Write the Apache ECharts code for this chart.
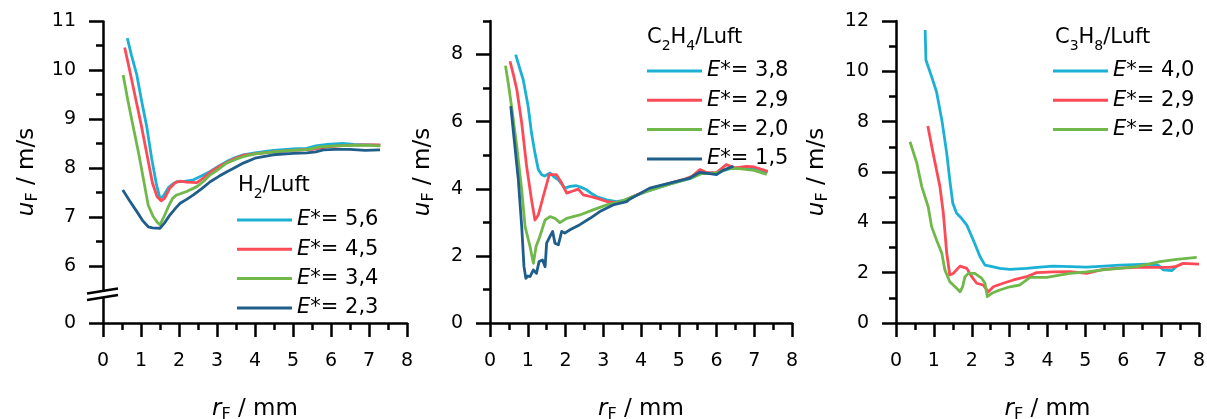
<!DOCTYPE html>
<html>
<head>
<meta charset="utf-8">
<script src="https://cdn.jsdelivr.net/npm/echarts@6/dist/echarts.min.js"></script>
<style>
  html, body { margin: 0; padding: 0; background: #fff; }
  #chart { width: 1207px; height: 419px; }
</style>
</head>
<body>
<div id="chart"></div>
<script>
// ---------- data: [r_F in mm, u_F in m/s] ----------
// H2 / air
const h2_E56 = [[0.64,10.65],[0.75,10.3],[0.89,9.9],[1.02,9.35],[1.15,8.85],[1.28,8.2],[1.41,7.65],[1.5,7.38],[1.58,7.42],[1.72,7.6],[1.85,7.68],[1.94,7.72],[2.1,7.72],[2.38,7.76],[2.6,7.84],[2.82,7.93],[3.05,8.04],[3.25,8.13],[3.5,8.22],[3.69,8.27],[4.0,8.31],[4.48,8.36],[5.0,8.39],[5.36,8.4],[5.6,8.45],[5.9,8.48],[6.3,8.5],[6.6,8.48],[7.0,8.47],[7.29,8.46]];
const h2_E45 = [[0.57,10.46],[0.7,10.0],[0.85,9.45],[1.0,8.9],[1.15,8.3],[1.3,7.7],[1.42,7.42],[1.53,7.33],[1.62,7.38],[1.75,7.58],[1.9,7.7],[2.03,7.73],[2.2,7.71],[2.47,7.7],[2.65,7.8],[2.85,7.93],[3.1,8.05],[3.4,8.17],[3.7,8.26],[4.0,8.29],[4.5,8.33],[5.0,8.36],[5.5,8.38],[5.9,8.43],[6.4,8.46],[6.9,8.47],[7.3,8.47]];
const h2_E34 = [[0.53,9.9],[0.65,9.4],[0.75,9.01],[0.93,8.33],[1.06,7.79],[1.19,7.24],[1.32,7.01],[1.42,6.9],[1.5,6.84],[1.6,7.0],[1.72,7.21],[1.83,7.38],[1.94,7.45],[2.2,7.52],[2.47,7.62],[2.65,7.73],[2.82,7.86],[3.05,7.98],[3.25,8.1],[3.5,8.18],[3.69,8.23],[4.0,8.29],[4.5,8.33],[5.0,8.36],[5.4,8.38],[5.7,8.43],[6.1,8.45],[6.6,8.46],[7.0,8.46],[7.3,8.45]];
const h2_E23 = [[0.52,7.55],[0.7,7.33],[0.9,7.1],[1.05,6.92],[1.19,6.8],[1.3,6.78],[1.5,6.77],[1.62,6.88],[1.76,7.04],[1.9,7.17],[2.03,7.28],[2.2,7.36],[2.38,7.45],[2.6,7.58],[2.82,7.72],[3.05,7.83],[3.25,7.92],[3.5,8.02],[3.69,8.1],[4.0,8.2],[4.48,8.27],[5.0,8.3],[5.36,8.31],[5.6,8.33],[5.8,8.37],[6.1,8.38],[6.5,8.38],[6.9,8.36],[7.29,8.37]];

// C2H4 / air
const c2h4_E38 = [[0.68,8.0],[0.78,7.62],[0.88,7.25],[1.01,6.46],[1.1,5.66],[1.19,5.07],[1.28,4.57],[1.37,4.42],[1.45,4.38],[1.59,4.47],[1.7,4.35],[1.81,4.27],[1.98,4.02],[2.12,4.07],[2.29,4.09],[2.4,4.05],[2.56,3.97],[2.7,3.85],[2.82,3.77],[3.09,3.67],[3.35,3.62],[3.62,3.67],[3.79,3.77],[4.15,3.92],[4.5,4.05],[4.8,4.15],[5.11,4.25],[5.3,4.3],[5.56,4.45],[5.8,4.45],[6.0,4.45],[6.2,4.55],[6.44,4.62],[6.8,4.62],[7.1,4.6],[7.35,4.48]];
const c2h4_E29 = [[0.53,7.8],[0.62,7.4],[0.71,6.96],[0.84,5.96],[0.97,4.67],[1.1,3.67],[1.19,3.07],[1.28,3.22],[1.41,3.77],[1.57,4.42],[1.76,4.42],[1.9,4.17],[2.03,3.87],[2.16,3.92],[2.34,3.99],[2.47,3.82],[2.65,3.77],[2.82,3.72],[3.09,3.62],[3.35,3.59],[3.62,3.67],[3.79,3.77],[4.15,3.94],[4.5,4.08],[4.8,4.18],[5.11,4.27],[5.35,4.37],[5.56,4.57],[5.75,4.48],[6.0,4.48],[6.26,4.72],[6.5,4.62],[6.79,4.67],[7.0,4.65],[7.36,4.52]];
const c2h4_E20 = [[0.41,7.67],[0.49,7.1],[0.57,6.46],[0.71,5.26],[0.84,3.97],[0.93,2.87],[1.06,2.28],[1.15,1.78],[1.22,2.28],[1.32,2.58],[1.46,3.07],[1.59,3.17],[1.72,3.12],[1.85,2.99],[2.03,3.12],[2.38,3.22],[2.73,3.37],[3.09,3.52],[3.4,3.6],[3.79,3.77],[4.15,3.92],[4.5,4.05],[4.8,4.15],[5.11,4.25],[5.4,4.35],[5.6,4.45],[6.0,4.47],[6.3,4.6],[6.6,4.6],[7.0,4.55],[7.33,4.43]];
const c2h4_E15 = [[0.55,6.46],[0.66,5.26],[0.75,4.27],[0.84,2.87],[0.9,1.68],[0.95,1.33],[1.0,1.4],[1.06,1.38],[1.15,1.58],[1.23,1.48],[1.3,1.83],[1.39,1.88],[1.46,1.68],[1.5,2.38],[1.59,2.58],[1.66,2.73],[1.72,2.38],[1.81,2.33],[1.9,2.73],[1.98,2.68],[2.12,2.78],[2.38,2.93],[2.65,3.12],[2.91,3.32],[3.26,3.52],[3.62,3.62],[3.7,3.69],[4.23,4.02],[4.76,4.17],[5.29,4.32],[5.56,4.49],[5.82,4.45],[6.0,4.42],[6.17,4.55],[6.45,4.67]];

// C3H8 / air
const c3h8_E40 = [[0.77,11.64],[0.79,10.45],[0.94,9.79],[1.07,9.19],[1.21,8.07],[1.34,6.74],[1.42,5.68],[1.5,4.76],[1.6,4.36],[1.73,4.16],[1.87,3.89],[2.04,3.3],[2.22,2.63],[2.35,2.3],[2.48,2.26],[2.74,2.17],[3.01,2.13],[3.45,2.17],[3.8,2.22],[4.15,2.26],[4.6,2.24],[5.03,2.22],[5.5,2.26],[5.91,2.3],[6.3,2.32],[6.61,2.34],[6.92,2.3],[7.06,2.11],[7.28,2.08],[7.41,2.26]];
const c3h8_E29 = [[0.84,7.83],[0.98,6.74],[1.16,5.42],[1.25,4.36],[1.34,2.77],[1.42,1.91],[1.51,1.97],[1.69,2.26],[1.87,2.17],[2.0,1.84],[2.13,1.58],[2.3,1.51],[2.44,1.24],[2.57,1.44],[2.83,1.58],[3.1,1.71],[3.45,1.84],[3.71,2.0],[4.15,2.03],[4.59,2.04],[5.03,1.97],[5.47,2.13],[5.9,2.18],[6.35,2.21],[6.79,2.21],[7.23,2.21],[7.4,2.25],[7.58,2.37],[8.0,2.34]];
const c3h8_E20 = [[0.37,7.2],[0.55,6.35],[0.68,5.42],[0.85,4.62],[0.94,3.83],[1.07,3.3],[1.21,2.77],[1.29,2.11],[1.42,1.64],[1.6,1.38],[1.69,1.24],[1.76,1.44],[1.82,1.84],[1.91,1.97],[2.08,1.97],[2.26,1.78],[2.35,1.58],[2.41,1.05],[2.53,1.18],[2.74,1.31],[3.01,1.44],[3.27,1.51],[3.54,1.81],[3.98,1.81],[4.59,1.97],[5.03,2.03],[5.47,2.11],[5.9,2.17],[6.35,2.24],[6.97,2.44],[7.41,2.53],[7.94,2.61]];

// tick values
const xTicks = [0, 1, 2, 3, 4, 5, 6, 7, 8];
const yTicksH2 = [0, 6, 7, 8, 9, 10, 11];
const yMinorH2 = [6.5, 7.5, 8.5, 9.5, 10.5];
const yTicksC2H4 = [0, 2, 4, 6, 8];
const yMinorC2H4 = [1, 3, 5, 7, 9];
const yTicksC3H8 = [0, 2, 4, 6, 8, 10, 12];
const yMinorC3H8 = [1, 3, 5, 7, 9, 11];

// legend labels (E* values)
const labelsH2 = ['5,6', '4,5', '3,4', '2,3'];
const labelsC2H4 = ['3,8', '2,9', '2,0', '1,5'];
const labelsC3H8 = ['4,0', '2,9', '2,0'];

const COLORS = ['#1bb1d5', '#fd4a57', '#71b84b', '#1f5e8a'];
const FONT = '"DejaVu Sans", "Liberation Sans", Arial, sans-serif';
const BLACK = '#000';
const LW = 2.5;     // axis strokes
const DLW = 2.8;    // data strokes

const nameRich = {
  i: { fontStyle: 'italic', fontSize: 23, fontFamily: FONT, color: BLACK, lineHeight: 28 },
  s: { fontSize: 16, fontFamily: FONT, color: BLACK, verticalAlign: 'bottom', lineHeight: 14 },
  n: { fontSize: 23, fontFamily: FONT, color: BLACK, lineHeight: 28 }
};
const nameStyle = { fontSize: 23, fontFamily: FONT, color: BLACK, lineHeight: 28, rich: nameRich };

const grids = [
  { left: 103, top: 21, width: 304, height: 302, outerBoundsMode: 'none', containLabel: false },
  { left: 490, top: 21, width: 302, height: 302, outerBoundsMode: 'none', containLabel: false },
  { left: 896, top: 21, width: 303, height: 302, outerBoundsMode: 'none', containLabel: false }
];

function xAxisFor(g) {
  return {
    type: 'value', gridIndex: g, min: 0, max: 8, interval: 1,
    axisLine: { show: true, onZero: false, lineStyle: { color: BLACK, width: LW } },
    axisTick: { show: true, length: 14, lineStyle: { color: BLACK, width: LW } },
    minorTick: { show: true, splitNumber: 2, length: 7, lineStyle: { color: BLACK, width: LW } },
    splitLine: { show: false }, minorSplitLine: { show: false },
    axisLabel: { customValues: xTicks, fontSize: 19, fontFamily: FONT, color: BLACK, margin: 29 },
    name: '{i|r}{s|F}{n| / mm}', nameLocation: 'middle', nameGap: 72, nameTextStyle: nameStyle
  };
}

function yAxesFor(g, min, max, majors, minors, nameGap, breaks) {
  const base = { type: 'value', gridIndex: g, min: min, max: max, position: 'left', offset: 0,
                 splitLine: { show: false } };
  if (breaks) {
    base.breaks = breaks;
    base.breakArea = { show: false };
  }
  const main = Object.assign({}, base, {
    axisLine: { show: true, onZero: false, lineStyle: { color: BLACK, width: LW } },
    axisTick: { show: true, length: 14, customValues: majors, lineStyle: { color: BLACK, width: LW } },
    axisLabel: { customValues: majors, fontSize: 19, fontFamily: FONT, color: BLACK, margin: 27 },
    name: '{i|u}{s|F}{n| / m/s}', nameLocation: 'middle', nameGap: nameGap, nameTextStyle: nameStyle
  });
  const minor = Object.assign({}, base, {
    axisLine: { show: false },
    axisTick: { show: true, length: 7, customValues: minors, lineStyle: { color: BLACK, width: LW } },
    axisLabel: { show: false }
  });
  return [main, minor];
}

const h2Break = [{ start: 0.5, end: 5.5, gap: '2.65%' }];

const yAxes = [].concat(
  yAxesFor(0, 0, 11, yTicksH2, yMinorH2, 62, h2Break),
  yAxesFor(1, 0, 9, yTicksC2H4, yMinorC2H4, 53, null),
  yAxesFor(2, 0, 12, yTicksC3H8, yMinorC3H8, 65, null)
);

function lineSeries(name, data, g, color) {
  return {
    type: 'line', name: name, data: data, xAxisIndex: g, yAxisIndex: g * 2,
    showSymbol: false, symbol: 'none', smooth: false, clip: true,
    lineStyle: { color: color, width: DLW, join: 'round' }, itemStyle: { color: color },
    emphasis: { disabled: true }, animation: false
  };
}

const panels = [
  { labels: labelsH2, data: [h2_E56, h2_E45, h2_E34, h2_E23], key: 'H2' },
  { labels: labelsC2H4, data: [c2h4_E38, c2h4_E29, c2h4_E20, c2h4_E15], key: 'C2H4' },
  { labels: labelsC3H8, data: [c3h8_E40, c3h8_E29, c3h8_E20], key: 'C3H8' }
];

const series = [];
const legendNames = [[], [], []];
panels.forEach(function (p, g) {
  p.data.forEach(function (d, k) {
    const nm = p.key + ' E* = ' + p.labels[k];
    legendNames[g].push({ name: nm, icon: 'rect' });
    series.push(lineSeries(nm, d, g, COLORS[k]));
  });
});

const legendRich = {
  e: { fontStyle: 'italic', fontSize: 21, fontFamily: FONT, color: BLACK, lineHeight: 24 },
  t: { fontSize: 21, fontFamily: FONT, color: BLACK, lineHeight: 24 }
};
function legendFor(g, left, top) {
  return {
    orient: 'vertical', left: left, top: top, padding: 0,
    itemWidth: 55, itemHeight: 3, itemGap: 5.3,
    data: legendNames[g], selectedMode: false,
    formatter: function (name) { return '{e|E*}{t|= ' + name.split('= ')[1] + '}'; },
    textStyle: { fontSize: 21, fontFamily: FONT, color: BLACK, lineHeight: 24, rich: legendRich }
  };
}

const titleRich = {
  sub: { fontSize: 14, fontFamily: FONT, color: BLACK, verticalAlign: 'bottom', lineHeight: 16 }
};
function titleFor(text, left, top) {
  return {
    text: text, left: left, top: top, padding: 0,
    textStyle: { fontSize: 21, fontWeight: 'normal', fontFamily: FONT, color: BLACK, lineHeight: 30, rich: titleRich }
  };
}

const chart = echarts.init(document.getElementById('chart'), null, { renderer: 'canvas' });
chart.setOption({
  animation: false,
  backgroundColor: '#fff',
  grid: grids,
  xAxis: [xAxisFor(0), xAxisFor(1), xAxisFor(2)],
  yAxis: yAxes,
  title: [
    titleFor('H{sub|2}/Luft', 238, 171),
    titleFor('C{sub|2}H{sub|4}/Luft', 647, 23),
    titleFor('C{sub|3}H{sub|8}/Luft', 1055, 23)
  ],
  legend: [legendFor(0, 237, 208), legendFor(1, 647, 59), legendFor(2, 1053, 59)],
  series: series
});

// axis-break symbol "//" on the first panel's value axis
const yLo = chart.convertToPixel({ yAxisIndex: 0 }, 0.5);
const yHi = chart.convertToPixel({ yAxisIndex: 0 }, 5.5);
const xAx = chart.convertToPixel({ xAxisIndex: 0 }, 0);
const ym = (yLo + yHi) / 2;
chart.setOption({
  graphic: [
    { type: 'rect', z: 100, shape: { x: xAx - 3, y: ym - 2.5, width: 6, height: 5 }, style: { fill: '#fff' } },
    { type: 'line', z: 101, shape: { x1: xAx - 16, y1: ym - 1, x2: xAx + 15, y2: ym - 6 }, style: { stroke: BLACK, lineWidth: LW } },
    { type: 'line', z: 101, shape: { x1: xAx - 16, y1: ym + 5.5, x2: xAx + 15, y2: ym + 0.5 }, style: { stroke: BLACK, lineWidth: LW } }
  ]
});
</script>
</body>
</html>
